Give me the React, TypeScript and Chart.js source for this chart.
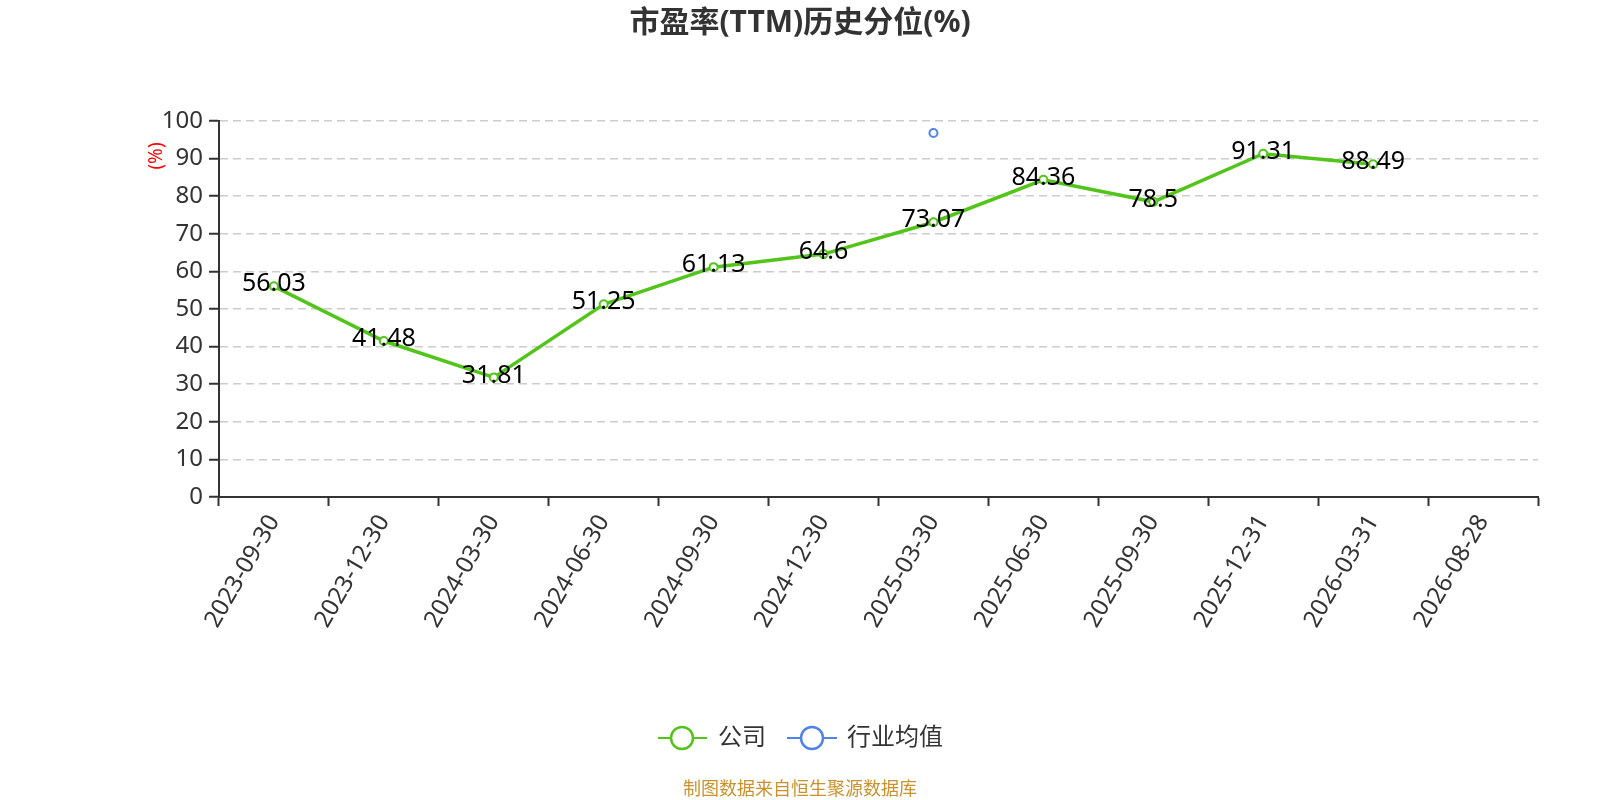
import { useEffect, useRef } from "react"
import { Chart, registerables, type ChartConfiguration, type Plugin } from "chart.js"

Chart.register(...registerables)

const categories = [
  "2023-09-30",
  "2023-12-30",
  "2024-03-30",
  "2024-06-30",
  "2024-09-30",
  "2024-12-30",
  "2025-03-30",
  "2025-06-30",
  "2025-09-30",
  "2025-12-31",
  "2026-03-31",
  "2026-08-28",
]

const companyValues = [56.03, 41.48, 31.81, 51.25, 61.13, 64.6, 73.07, 84.36, 78.5, 91.31, 88.49, null]
const industryValues = [null, null, null, null, null, null, 96.8, null, null, null, null, null]

const seriesNames = ["公司", "行业均值"]
const seriesColors = ["#52c41a", "#4f83e8"]

const FONT = '"Noto Sans", "Noto Sans CJK SC", sans-serif'

// title, y-axis unit, value labels, legend and source note
const extras: Plugin<"line"> = {
  id: "extras",
  afterDatasetsDraw(chart) {
    const ctx = chart.ctx
    ctx.save()

    // value labels on the company line
    const meta = chart.getDatasetMeta(0)
    ctx.font = `25px ${FONT}`
    ctx.fillStyle = "#000"
    ctx.textAlign = "center"
    ctx.textBaseline = "middle"
    meta.data.forEach((pt, i) => {
      const v = companyValues[i]
      if (v == null) return
      ctx.fillText(String(v), pt.x, pt.y - 2)
    })

    // title
    ctx.font = `bold 30px ${FONT}`
    ctx.fillStyle = "#333"
    ctx.fillText("市盈率(TTM)历史分位(%)", 800, 23)

    // y unit
    ctx.save()
    ctx.translate(157, 156)
    ctx.rotate(-Math.PI / 2)
    ctx.font = `19px ${FONT}`
    ctx.fillStyle = "#ff0000"
    ctx.fillText("(%)", 0, 0)
    ctx.restore()

    // legend
    const legendY = 738
    const items = [
      { x0: 658, x1: 707, cx: 682, tx: 718 },
      { x0: 787, x1: 837, cx: 812, tx: 847 },
    ]
    items.forEach((it, i) => {
      ctx.strokeStyle = seriesColors[i]
      ctx.lineWidth = 2
      ctx.beginPath()
      ctx.moveTo(it.x0, legendY)
      ctx.lineTo(it.x1, legendY)
      ctx.stroke()
      ctx.beginPath()
      ctx.arc(it.cx, legendY, 11, 0, Math.PI * 2)
      ctx.fillStyle = "#fff"
      ctx.fill()
      ctx.lineWidth = 2.5
      ctx.stroke()
      ctx.font = `24px ${FONT}`
      ctx.fillStyle = "#333"
      ctx.textAlign = "left"
      ctx.fillText(seriesNames[i], it.tx, legendY)
    })

    // source note
    ctx.textAlign = "center"
    ctx.font = `18px ${FONT}`
    ctx.fillStyle = "#c9922c"
    ctx.fillText("制图数据来自恒生聚源数据库", 800, 790)

    ctx.restore()
  },
}

export default function App() {
  const chartRef = useRef<HTMLCanvasElement>(null)
  const chartInstance = useRef<Chart | null>(null)

  useEffect(() => {
    document.body.style.margin = "0"
    if (!chartRef.current) return

    if (chartInstance.current) {
      chartInstance.current.destroy()
    }

    const ctx = chartRef.current.getContext("2d")
    if (!ctx) return

    const config: ChartConfiguration<"line"> = {
      type: "line",
      data: {
        labels: categories,
        datasets: [
          {
            label: seriesNames[0],
            data: companyValues,
            borderColor: seriesColors[0],
            backgroundColor: "#fff",
            borderWidth: 3.5,
            pointRadius: 4,
            pointBorderWidth: 2,
            pointBackgroundColor: "#fff",
            pointBorderColor: seriesColors[0],
            tension: 0,
          },
          {
            label: seriesNames[1],
            data: industryValues,
            borderColor: seriesColors[1],
            backgroundColor: "#fff",
            borderWidth: 2,
            pointRadius: 4,
            pointBorderWidth: 2,
            pointBackgroundColor: "#fff",
            pointBorderColor: seriesColors[1],
          },
        ],
      },
      options: {
        responsive: true,
        maintainAspectRatio: false,
        animation: false,
        layout: {
          padding: { top: 121, right: 62, bottom: 0, left: 0 },
        },
        plugins: {
          legend: { display: false },
          title: { display: false },
          tooltip: { enabled: false },
        },
        scales: {
          x: {
            offset: true,
            afterFit: (scale) => {
              scale.height = 303
            },
            grid: {
              offset: true,
              drawOnChartArea: false,
              drawTicks: true,
              tickLength: 9,
              tickColor: "#333",
              tickWidth: 2,
            },
            border: { color: "#333", width: 2 },
            ticks: {
              autoSkip: false,
              maxRotation: 60,
              minRotation: 60,
              padding: 4,
              color: "#333",
              font: { family: FONT, size: 24 },
            },
          },
          y: {
            min: 0,
            max: 100,
            afterFit: (scale) => {
              scale.width = 219
            },
            grid: {
              color: "#ccc",
              lineWidth: 1.5,
              drawTicks: true,
              tickLength: 10,
              tickColor: "#333",
              tickWidth: 2,
              tickBorderDash: [],
            },
            border: { color: "#333", width: 2, dash: [8, 5] },
            ticks: {
              stepSize: 10,
              padding: 6,
              color: "#333",
              font: { family: FONT, size: 24 },
            },
          },
        },
      },
      plugins: [extras],
    }

    chartInstance.current = new Chart(ctx, config)

    return () => {
      if (chartInstance.current) {
        chartInstance.current.destroy()
        chartInstance.current = null
      }
    }
  }, [])

  return (
    <div style={{ width: 1600, height: 800, position: "relative" }}>
      <canvas ref={chartRef} />
    </div>
  )
}
